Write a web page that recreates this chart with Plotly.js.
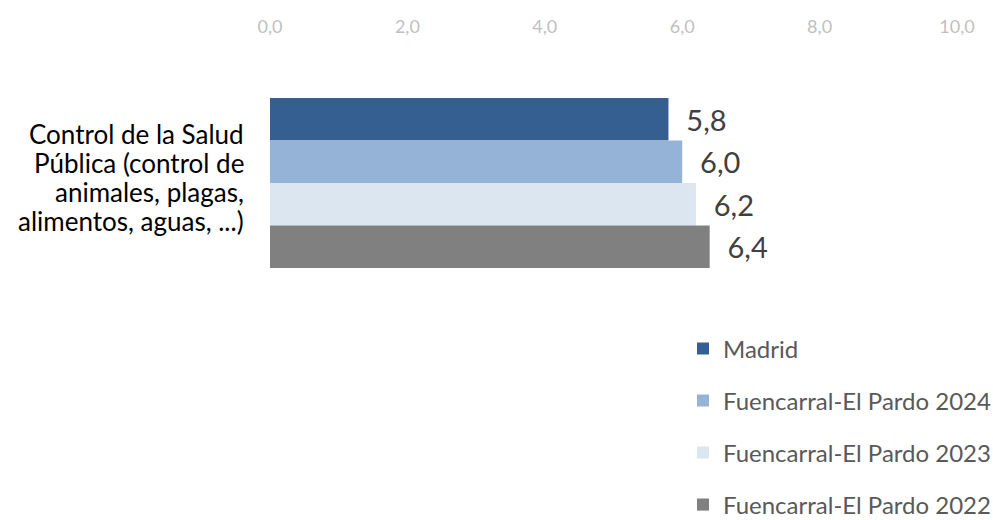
<!DOCTYPE html>
<html><head><meta charset="utf-8">
<script src="https://cdn.plot.ly/plotly-3.0.1.min.js"></script>
<style>html,body{margin:0;padding:0;background:#fff;}</style>
</head><body><div id="chart" style="width:993px;height:520px;"></div>
<script>
const categories = ["Control de la Salud Pública (control de animales, plagas, alimentos, aguas, ...)"];
const categoryLines = ["Control de la Salud", "Pública (control de", "animales, plagas,", "alimentos, aguas, ...)"];
const seriesNames = ["Madrid", "Fuencarral-El Pardo 2024", "Fuencarral-El Pardo 2023", "Fuencarral-El Pardo 2022"];
const madrid = [5.8];
const fep2024 = [6.0];
const fep2023 = [6.2];
const fep2022 = [6.4];
const xTicks = [0, 2, 4, 6, 8, 10];

const values = [madrid, fep2024, fep2023, fep2022];
const colors = ["#365f91", "#95b3d7", "#dce6f1", "#808080"];
const legendIds = ["legend", "legend2", "legend3", "legend4"];
const legendYs = [349, 401, 453, 505];

const traces = values.map((v, i) => ({
  type: 'bar', orientation: 'h', name: seriesNames[i],
  x: v, y: categories,
  marker: {color: colors[i]},
  texttemplate: '  %{x:.1f}', textposition: 'outside', cliponaxis: false,
  textfont: {family: 'Lato', size: 29, color: '#404040'},
  legend: legendIds[i], hoverinfo: 'skip'
}));

const lineShifts = [49, 20, -9, -38];
const annotations = categoryLines.map((t, i) => ({
  text: t, xref: 'paper', x: 0, xanchor: 'right', xshift: -24,
  yref: 'y', y: categories[0], yanchor: 'middle', yshift: lineShifts[i],
  showarrow: false, font: {family: 'Lato', size: 26, color: '#000'}
}));

const layout = {
  width: 993, height: 520,
  margin: {l: 270, r: 36, t: 48, b: 202, autoexpand: false},
  paper_bgcolor: '#fff', plot_bgcolor: '#fff',
  separators: ',.',
  barmode: 'group', bargap: 0.37, bargroupgap: 0,
  font: {family: 'Lato'},
  xaxis: {side: 'top', range: [0, 10], tickvals: xTicks, tickformat: '.1f',
    showgrid: false, zeroline: false, showline: false, ticks: '',
    ticklabelstandoff: 10, automargin: false,
    tickfont: {family: 'Lato', size: 18, color: '#bfbfbf'}, fixedrange: true},
  yaxis: {autorange: 'reversed', showgrid: false, zeroline: false, showline: false, ticks: '',
    showticklabels: false, automargin: false, fixedrange: true},
  annotations: annotations,
  showlegend: true
};
legendIds.forEach((id, i) => {
  layout[id] = {xref: 'container', yref: 'container', x: 683/993, y: 1 - legendYs[i]/520,
    xanchor: 'left', yanchor: 'middle', bgcolor: 'rgba(0,0,0,0)',
    font: {family: 'Lato', size: 24, color: '#595959'}};
});

Plotly.newPlot('chart', traces, layout, {displayModeBar: false, staticPlot: true});
</script></body></html>
